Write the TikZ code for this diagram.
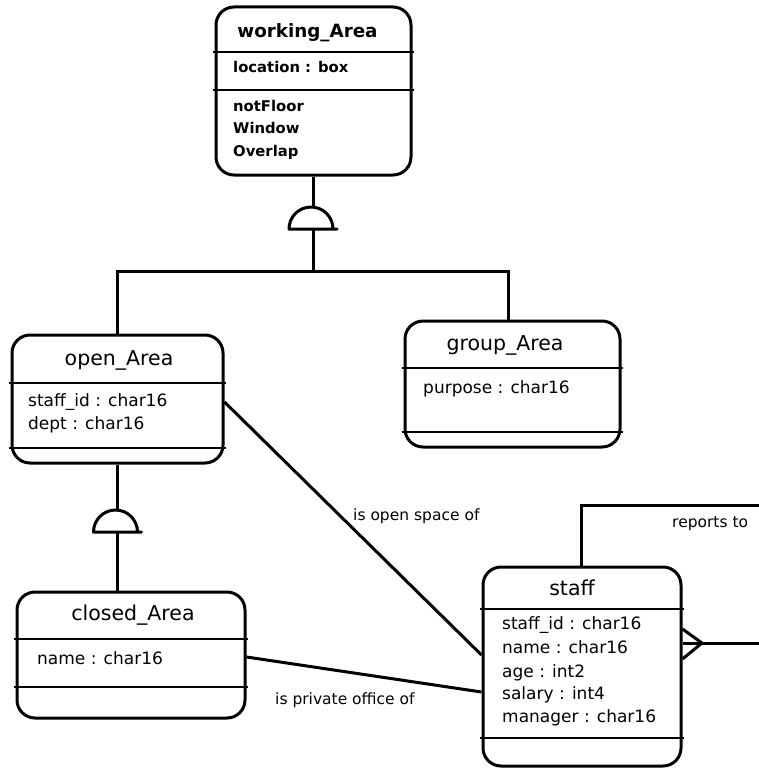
\documentclass[tikz,border=0pt]{standalone}
\usepackage{fontspec}
\setmainfont{DejaVu Sans}
\usetikzlibrary{calc}
\begin{document}
\begin{tikzpicture}[x=1pt,y=-1pt,
  ent/.style={draw, line width=3pt, rounded corners=18pt, inner sep=0pt},
  rule/.style={line width=2.8pt, shorten <=-1.5pt, shorten >=-1.5pt},
  conn/.style={line width=3pt},
  gen/.style={line width=3pt, line join=round},
  ttl/.style={font=\fontsize{20.5}{24}\selectfont, inner sep=0pt},
  att/.style={font=\fontsize{17}{20}\selectfont, anchor=west, inner sep=0pt, text height=0.75em, text depth=0.2em},
  ttlb/.style={font=\bfseries\fontsize{18.3}{22}\selectfont, inner sep=0pt},
  attb/.style={font=\bfseries\fontsize{14.8}{18}\selectfont, anchor=west, inner sep=0pt, text height=0.75em, text depth=0.2em},
  lbl/.style={font=\fontsize{15.5}{18}\selectfont, anchor=west, inner sep=0pt, text height=0.75em, text depth=0.2em}]
\useasboundingbox (0,0) rectangle (759,768);

% ---- entity frames ----
\node[ent, minimum width=195pt, minimum height=168pt] (wa) at (313.5,91) {};
\node[ent, minimum width=211pt, minimum height=128pt] (oa) at (117.5,399) {};
\node[ent, minimum width=215pt, minimum height=126pt] (ga) at (512.5,384) {};
\node[ent, minimum width=228pt, minimum height=126pt] (ca) at (131,655) {};
\node[ent, minimum width=198pt, minimum height=199pt] (st) at (582,666.5) {};

% ---- compartment rules ----
\draw[rule] (wa.west |- 0,52) -- (wa.east |- 0,52);
\draw[rule] (wa.west |- 0,90) -- (wa.east |- 0,90);
\draw[rule] (oa.west |- 0,383) -- (oa.east |- 0,383);
\draw[rule] (oa.west |- 0,448) -- (oa.east |- 0,448);
\draw[rule] (ga.west |- 0,368) -- (ga.east |- 0,368);
\draw[rule] (ga.west |- 0,432) -- (ga.east |- 0,432);
\draw[rule] (ca.west |- 0,639) -- (ca.east |- 0,639);
\draw[rule] (ca.west |- 0,687) -- (ca.east |- 0,687);
\draw[rule] (st.west |- 0,609) -- (st.east |- 0,609);
\draw[rule] (st.west |- 0,738) -- (st.east |- 0,738);

% ---- working_Area ----
\node[ttlb] (waT) at (307.5,33) {working\_Area};
\node[attb] (wa1) at (233,70) {location : box};
\node[attb] (wa2) at (233,109) {notFloor};
\node[attb] (wa3) at (233,131) {Window};
\node[attb] (wa4) at (233,154) {Overlap};

% ---- open_Area ----
\node[ttl] (oaT) at (119,360) {open\_Area};
\node[att] (oa1) at (28,404) {staff\_id : char16};
\node[att] (oa2) at (28,427) {dept : char16};

% ---- group_Area ----
\node[ttl] (gaT) at (505,345) {group\_Area};
\node[att] (ga1) at (423,391) {purpose : char16};

% ---- closed_Area ----
\node[ttl] (caT) at (133,615) {closed\_Area};
\node[att] (ca1) at (37,662) {name : char16};

% ---- staff ----
\node[ttl] (stT) at (572,588) {staff};
\node[att] (st1) at (502,627) {staff\_id : char16};
\node[att] (st2) at (502,651) {name : char16};
\node[att] (st3) at (502,675) {age : int2};
\node[att] (st4) at (502,697) {salary : int4};
\node[att] (st5) at (502,720) {manager : char16};

% ---- generalisation: working_Area -> open_Area / group_Area ----
\coordinate (g1) at (313,229);
\coordinate (j1) at (313,271);
\draw[gen] ($(g1)+(-24,0)$) arc[start angle=180, end angle=0, radius=22pt] -- ($(g1)+(24,0)$) -- cycle;
\draw[conn] (wa.south -| g1) -- ($(g1)+(0,-22)$);
\draw[conn] (g1) -- (j1);
\draw[conn] (j1) -| (oa.north);
\draw[conn] (j1) -| ($(ga.north)+(-4.5,0)$);

% ---- generalisation: open_Area -> closed_Area ----
\coordinate (g2) at (117.5,532);
\draw[gen] ($(g2)+(-24,0)$) arc[start angle=180, end angle=0, radius=22pt] -- ($(g2)+(24,0)$) -- cycle;
\draw[conn] (oa.south) -- ($(g2)+(0,-22)$);
\draw[conn] (g2) -- (g2 |- ca.north);

% ---- associations ----
\draw[conn] (oa.east |- 0,402) -- (st.west |- 0,655);
\node[lbl] (l1) at (353,518) {is open space of};
\draw[conn] (ca.east |- 0,657) -- (st.west |- 0,692);
\node[lbl] (l2) at (275,702) {is private office of};

% ---- reports to (recursive, many end) ----
\coordinate (r1) at (581,505);
\coordinate (r2) at (759,505);
\coordinate (cf) at (702,643);
\coordinate (r3) at (759,643);
\draw[conn] (st.north -| r1) -- (r1) -- (r2);
\draw[conn, line join=round] (st.east |- 0,629) -- (cf) -- (st.east |- 0,659);
\draw[conn] (st.east |- cf) -- (r3);
\node[lbl] (l3) at (672,525) {reports to};
\end{tikzpicture}
\end{document}
